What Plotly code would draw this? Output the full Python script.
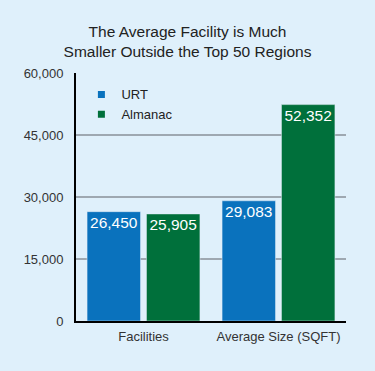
import plotly.graph_objects as go

categories = ["Facilities", "Average Size (SQFT)"]
urt_values = [26450, 29083]
almanac_values = [25905, 52352]
tick_vals = [0, 15000, 30000, 45000, 60000]
tick_text = ["0", "15,000", "30,000", "45,000", "60,000"]
title_text = "The Average Facility is Much<br>Smaller Outside the Top 50 Regions"

BLUE = "#0a72bd"
GREEN = "#00703b"
BG = "#dff0fb"
FONT = "Liberation Sans, Arial, sans-serif"

fig = go.Figure()
fig.add_trace(go.Bar(
    x=categories, y=urt_values, name="URT", marker_color=BLUE, showlegend=False,
    text=[f"{v:,}" for v in urt_values], textposition="inside", insidetextanchor="end",
    textfont=dict(color="white", size=16, family=FONT), textangle=0,
))
fig.add_trace(go.Bar(
    x=categories, y=almanac_values, name="Almanac", marker_color=GREEN, showlegend=False,
    text=[f"{v:,}" for v in almanac_values], textposition="inside", insidetextanchor="end",
    textfont=dict(color="white", size=16, family=FONT), textangle=0,
))
# legend proxies with small square markers
for name, col in [("URT", BLUE), ("Almanac", GREEN)]:
    fig.add_trace(go.Scatter(x=[None], y=[None], mode="markers", name=name,
                             marker=dict(symbol="square", size=7, color=col)))

fig.update_layout(
    width=375, height=371,
    paper_bgcolor=BG, plot_bgcolor=BG,
    margin=dict(l=76, r=29, t=73, b=50),
    barmode="group", bargap=0.12, bargroupgap=0.1,
    font=dict(family=FONT, size=13, color="#333333"),
    title=dict(text=title_text, x=0.5, xanchor="center", y=0.90, yanchor="top",
               font=dict(size=15.5, color="#222222", family=FONT)),
    legend=dict(x=0.02, y=0.974, xanchor="left", yanchor="top", bgcolor="rgba(0,0,0,0)",
                font=dict(size=13, color="#222222"), itemwidth=30, tracegroupgap=0),
    showlegend=True,
    uniformtext=dict(minsize=8, mode="show"),
)
fig.update_yaxes(range=[0, 60000], tickvals=tick_vals, ticktext=tick_text,
                 showgrid=True, gridcolor="#9ea8b1", gridwidth=1.5,
                 showline=True, linecolor="black", linewidth=2,
                 ticks="outside", ticklen=8, tickcolor="rgba(0,0,0,0)",
                 zeroline=False, fixedrange=True)
fig.update_xaxes(showline=True, linecolor="black", linewidth=2,
                 ticks="outside", ticklen=2, tickcolor="rgba(0,0,0,0)",
                 showgrid=False)

fig.write_html("out.html", config={"displayModeBar": False},
               post_script="document.body.style.margin='0';document.body.style.background='%s';" % BG)
